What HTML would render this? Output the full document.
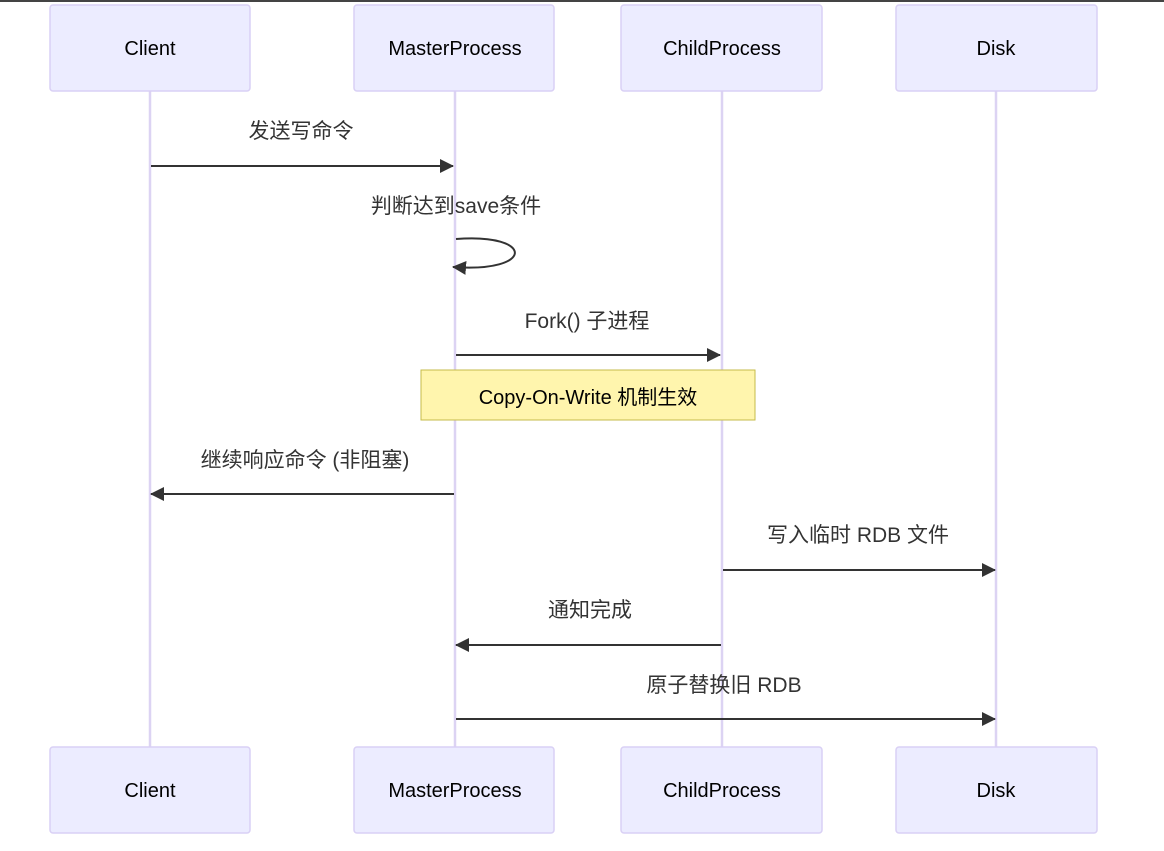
<!DOCTYPE html>
<html><head><meta charset="utf-8"><style>
html,body{margin:0;padding:0;background:#fff;}
svg{display:block;}
text{font-family:"Liberation Sans","Noto Sans CJK SC",sans-serif;}
</style></head><body>
<svg width="1164" height="851" viewBox="0 0 1164 851" xmlns="http://www.w3.org/2000/svg">
<defs>
<marker id="a" markerWidth="14" markerHeight="14" refX="13" refY="7" orient="auto" markerUnits="userSpaceOnUse">
<path d="M0,0 L14,7 L0,14 z" fill="#333"/></marker>
</defs>
<rect x="0" y="0" width="1164" height="2" fill="#444"/>
<g stroke="#dcd3f3" stroke-width="2.5">
<line x1="150" y1="91" x2="150" y2="747"/>
<line x1="455" y1="91" x2="455" y2="747"/>
<line x1="722" y1="91" x2="722" y2="747"/>
<line x1="996" y1="91" x2="996" y2="747"/>
</g>
<g fill="#ececff" stroke="#d9d0f5" stroke-width="1.5">
<rect x="50" y="5" width="200" height="86" rx="3"/>
<rect x="354" y="5" width="200" height="86" rx="3"/>
<rect x="621" y="5" width="201" height="86" rx="3"/>
<rect x="896" y="5" width="201" height="86" rx="3"/>
<rect x="50" y="747" width="200" height="86" rx="3"/>
<rect x="354" y="747" width="200" height="86" rx="3"/>
<rect x="621" y="747" width="201" height="86" rx="3"/>
<rect x="896" y="747" width="201" height="86" rx="3"/>
</g>
<g font-size="20" text-anchor="middle" fill="#000">
<text x="150" y="55">Client</text>
<text x="455" y="55">MasterProcess</text>
<text x="722" y="55">ChildProcess</text>
<text x="996" y="55">Disk</text>
<text x="150" y="797">Client</text>
<text x="455" y="797">MasterProcess</text>
<text x="722" y="797">ChildProcess</text>
<text x="996" y="797">Disk</text>
</g>
<g stroke="#333" stroke-width="2" fill="none" marker-end="url(#a)">
<line x1="151" y1="166" x2="453" y2="166"/>
<path d="M456,239 C535,233 535,273 453,267"/>
<line x1="456" y1="355" x2="720" y2="355"/>
<line x1="454" y1="494" x2="151" y2="494"/>
<line x1="723" y1="570" x2="995" y2="570"/>
<line x1="721" y1="645" x2="456" y2="645"/>
<line x1="456" y1="719" x2="995" y2="719"/>
</g>
<rect x="421" y="370" width="334" height="50" fill="#fff5ad" stroke="#c6bb4a" stroke-width="1"/>
<g font-size="21" text-anchor="middle" fill="#333">
<text x="301" y="138">发送写命令</text>
<text x="456" y="213">判断达到save条件</text>
<text x="587" y="328">Fork() 子进程</text>
<text x="305" y="467">继续响应命令 (非阻塞)</text>
<text x="858" y="542">写入临时 RDB 文件</text>
<text x="590" y="617">通知完成</text>
<text x="724" y="692">原子替换旧 RDB</text>
</g>
<text x="588" y="404" font-size="20" text-anchor="middle" fill="#000">Copy-On-Write 机制生效</text>
</svg>
</body></html>
